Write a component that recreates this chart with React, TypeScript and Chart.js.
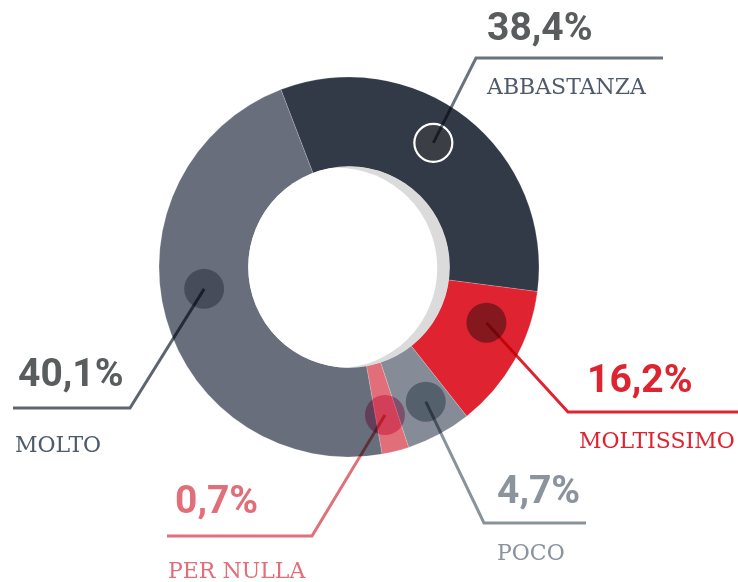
import React, { useEffect, useRef } from "react";
import { Chart, ArcElement, DoughnutController } from "chart.js";

Chart.register(ArcElement, DoughnutController);

// ---- data ----
const categories = ["ABBASTANZA", "MOLTISSIMO", "POCO", "PER NULLA", "MOLTO"];
const percentLabels = ["38,4%", "16,2%", "4,7%", "0,7%", "40,1%"];
// share of the ring each slice occupies in the picture (measured arc angle / 3.6)
const arcShares = [32.9, 12.3, 5.55, 2.3, 46.95];

// ---- styles ----
const sliceColors = ["#323a47", "#df2330", "#858c97", "#e06f79", "#686e7b"];
const lineColors = ["#6b7280", "#df2330", "#8a929c", "#e0707a", "#5f6473"];
const pctColors = ["#595d5e", "#de2431", "#8b939d", "#e06f7a", "#595d5e"];
const nameColors = ["#4f5b6b", "#de2431", "#8b939d", "#e06f7a", "#4f5b6b"];
// dot fills (multiply blend, except the first one which is a normal fill with a white ring)
const dotFills = ["#3b3e44", "#98a59c", "#a0aeb5", "#f091b9", "#acafb8"];

// ---- callout layout ----
const dotAngleFrac = [0.466, 0.33, 0.43, 0.56, 0.541];
const dotRadialFrac = [0.555, 0.535, 0.61, 0.58, 0.515];
const callouts = [
  { ex: 476, ey: 58, endX: 663, px: 487, py: 40, nx: 487, ny: 94 },
  { ex: 568, ey: 412, endX: 738, px: 587, py: 392, nx: 579, ny: 448 },
  { ex: 484, ey: 523, endX: 586, px: 497, py: 503, nx: 497, ny: 560 },
  { ex: 312, ey: 536, endX: 167, px: 175, py: 513, nx: 168, ny: 578 },
  { ex: 130, ey: 408, endX: 13, px: 18, py: 386, nx: 15, ny: 452 },
];

const calloutPlugin = {
  id: "callouts",
  afterDraw(chart: any) {
    const ctx = chart.ctx as CanvasRenderingContext2D;
    const meta = chart.getDatasetMeta(0);
    const arcs = meta.data;
    if (!arcs.length) return;
    const p0 = arcs[0].getProps(["x", "y", "innerRadius", "outerRadius"], true);
    const cx = p0.x, cy = p0.y, rin = p0.innerRadius, rout = p0.outerRadius;

    // inner shadow inside the hole
    ctx.save();
    ctx.beginPath();
    ctx.arc(cx, cy, rin + 0.5, 0, Math.PI * 2);
    ctx.clip();
    ctx.fillStyle = "#dbdbdb";
    ctx.fillRect(cx - rin - 2, cy - rin - 2, rin * 2 + 4, rin * 2 + 4);
    ctx.beginPath();
    ctx.arc(cx - 12, cy + 1, rin, 0, Math.PI * 2);
    ctx.fillStyle = "#ffffff";
    ctx.fill();
    ctx.restore();

    const dots = arcs.map((a: any, i: number) => {
      const p = a.getProps(["startAngle", "endAngle"], true);
      const ang = p.startAngle + dotAngleFrac[i] * (p.endAngle - p.startAngle);
      const r = rin + dotRadialFrac[i] * (rout - rin);
      return { x: cx + r * Math.cos(ang), y: cy + r * Math.sin(ang) };
    });

    ctx.save();
    // first dot: normal fill with white ring
    ctx.beginPath();
    ctx.arc(dots[0].x, dots[0].y, 19, 0, Math.PI * 2);
    ctx.fillStyle = dotFills[0];
    ctx.fill();
    ctx.lineWidth = 2.2;
    ctx.strokeStyle = "#ffffff";
    ctx.stroke();

    ctx.globalCompositeOperation = "multiply";
    for (let i = 1; i < dots.length; i++) {
      ctx.beginPath();
      ctx.arc(dots[i].x, dots[i].y, 20, 0, Math.PI * 2);
      ctx.fillStyle = dotFills[i];
      ctx.fill();
    }
    ctx.lineWidth = 3;
    ctx.lineJoin = "miter";
    for (let i = 0; i < dots.length; i++) {
      const c = callouts[i];
      ctx.beginPath();
      ctx.moveTo(dots[i].x, dots[i].y);
      ctx.lineTo(c.ex, c.ey);
      ctx.lineTo(c.endX, c.ey);
      ctx.strokeStyle = lineColors[i];
      ctx.stroke();
    }
    ctx.restore();

    ctx.save();
    ctx.textAlign = "left";
    ctx.textBaseline = "alphabetic";
    for (let i = 0; i < categories.length; i++) {
      const c = callouts[i];
      ctx.font = "bold 39px Roboto";
      ctx.fillStyle = pctColors[i];
      ctx.fillText(percentLabels[i], c.px, c.py);
      ctx.font = "22px 'DejaVu Serif'";
      ctx.fillStyle = nameColors[i];
      ctx.fillText(categories[i], c.nx, c.ny);
    }
    ctx.restore();
  },
};

export default function App() {
  const ref = useRef<HTMLCanvasElement | null>(null);
  useEffect(() => {
    document.body.style.margin = "0";
    const canvas = ref.current;
    if (!canvas) return;
    const chart = new Chart(canvas, {
      type: "doughnut",
      data: {
        labels: categories,
        datasets: [
          {
            data: arcShares,
            backgroundColor: sliceColors,
            borderColor: "rgba(255,255,255,0.18)",
            borderWidth: 1,
          },
        ],
      },
      options: {
        responsive: false,
        animation: false,
        rotation: -21,
        cutout: 100,
        radius: 190,
        layout: { padding: { left: 159, right: 199, top: 77, bottom: 125 } },
        plugins: { legend: { display: false }, tooltip: { enabled: false } },
        events: [],
      } as any,
      plugins: [calloutPlugin],
    });
    return () => chart.destroy();
  }, []);
  return (
    <canvas
      ref={ref}
      width={738}
      height={582}
      style={{ display: "block", width: 738, height: 582 }}
    />
  );
}
